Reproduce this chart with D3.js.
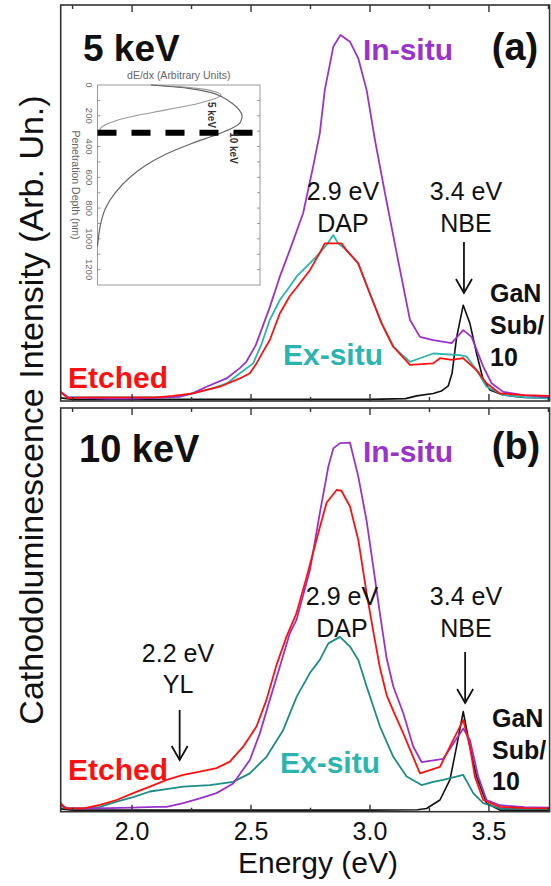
<!DOCTYPE html>
<html><head><meta charset="utf-8">
<script src="https://cdn.jsdelivr.net/npm/d3@7"></script>
<style>body{margin:0;background:#fff} svg{display:block} text{font-family:"Liberation Sans",Arial,Helvetica,sans-serif}</style>
</head><body>
<svg id="c" width="551" height="886"></svg>
<script>
// ---------- DATA ----------
// [energy (eV), intensity (arb.)]
const aInSitu = [[1.700,2.3],[1.730,1.0],[1.800,0.8],[1.900,0.6],[2.000,0.6],[2.100,0.8],[2.200,1.1],[2.256,2.0],[2.313,3.6],[2.397,5.7],[2.453,8.3],[2.480,9.9],[2.520,14.1],[2.579,23.7],[2.621,31.4],[2.663,38.1],[2.719,47.4],[2.761,59.2],[2.789,67.6],[2.810,78.5],[2.846,89.5],[2.876,92.4],[2.916,90.7],[2.951,86.5],[2.986,78.5],[3.021,65.9],[3.063,52.5],[3.112,37.4],[3.168,20.5],[3.210,16.2],[3.266,15.4],[3.343,14.6],[3.392,17.9],[3.427,16.2],[3.476,8.7],[3.511,4.5],[3.560,2.3],[3.650,1.4],[3.755,1.0]];
const aExSitu = [[1.700,2.3],[1.730,0.9],[1.800,0.9],[1.900,0.9],[2.000,0.9],[2.100,0.9],[2.200,1.1],[2.256,1.9],[2.340,3.2],[2.400,4.5],[2.453,7.0],[2.509,9.5],[2.545,14.5],[2.579,20.5],[2.621,25.5],[2.663,28.9],[2.691,31.4],[2.748,34.8],[2.789,37.4],[2.820,39.6],[2.846,41.9],[2.866,39.8],[2.901,38.1],[2.950,34.8],[2.999,27.2],[3.049,19.6],[3.098,13.7],[3.168,9.9],[3.210,10.8],[3.266,12.0],[3.378,11.6],[3.406,11.2],[3.448,7.8],[3.490,3.6],[3.560,1.5],[3.650,1.0],[3.755,0.6]];
const aEtched = [[1.700,2.3],[1.730,0.7],[1.800,0.9],[1.900,0.9],[2.000,0.9],[2.100,0.9],[2.172,1.3],[2.256,1.9],[2.313,2.8],[2.369,3.6],[2.453,5.7],[2.495,7.0],[2.523,9.5],[2.550,12.4],[2.579,15.4],[2.621,22.1],[2.663,26.5],[2.691,28.6],[2.748,33.1],[2.789,37.4],[2.810,39.8],[2.880,39.8],[2.901,38.1],[2.950,34.8],[2.999,27.2],[3.049,19.6],[3.098,13.7],[3.168,9.1],[3.266,9.5],[3.294,10.8],[3.343,10.4],[3.392,10.8],[3.448,7.8],[3.490,4.5],[3.546,1.9],[3.650,1.5],[3.755,1.3]];
const aGaN = [[1.700,0.8],[1.750,0.4],[2.000,0.4],[2.500,0.4],[3.000,0.4],[3.150,0.6],[3.196,1.3],[3.266,1.9],[3.300,2.5],[3.329,3.8],[3.345,7.0],[3.364,16.0],[3.392,24.2],[3.420,19.6],[3.448,12.0],[3.476,5.3],[3.504,2.8],[3.560,1.5],[3.650,0.9],[3.755,0.8]];

const bInSitu = [[1.700,1.7],[1.730,0.8],[1.800,0.8],[1.900,0.9],[2.000,1.0],[2.100,1.2],[2.145,1.2],[2.215,2.1],[2.285,3.3],[2.355,4.6],[2.425,7.0],[2.495,12.8],[2.537,19.4],[2.579,27.7],[2.621,35.9],[2.663,44.2],[2.691,47.5],[2.748,59.9],[2.789,73.9],[2.825,85.5],[2.846,90.0],[2.874,91.3],[2.916,91.4],[2.951,83.0],[2.986,72.0],[3.013,61.0],[3.042,49.0],[3.070,38.0],[3.098,31.0],[3.140,24.4],[3.182,16.1],[3.217,12.3],[3.308,13.1],[3.378,19.3],[3.392,20.6],[3.420,17.8],[3.455,8.7],[3.490,2.9],[3.546,1.6],[3.650,1.1],[3.755,1.0]];
const bEtched = [[1.700,2.1],[1.720,0.8],[1.795,0.8],[1.865,1.7],[1.935,2.9],[2.005,4.6],[2.075,6.2],[2.145,7.9],[2.215,9.1],[2.285,9.9],[2.355,10.8],[2.411,12.4],[2.467,16.1],[2.523,21.1],[2.565,27.7],[2.608,36.5],[2.650,43.5],[2.690,49.0],[2.734,58.2],[2.789,70.4],[2.818,76.6],[2.860,79.7],[2.880,79.5],[2.916,75.6],[2.951,67.3],[2.986,54.1],[3.013,45.0],[3.042,35.6],[3.070,28.9],[3.098,25.0],[3.140,19.4],[3.210,9.5],[3.294,11.1],[3.350,17.8],[3.392,22.7],[3.420,16.1],[3.441,8.7],[3.476,2.9],[3.546,1.2],[3.650,0.9],[3.755,0.8]];
const bExSitu = [[1.700,1.4],[1.730,0.8],[1.800,0.9],[1.865,1.2],[1.935,2.5],[2.005,3.6],[2.075,5.0],[2.145,5.6],[2.215,6.2],[2.327,6.6],[2.425,7.4],[2.495,9.5],[2.565,13.6],[2.635,20.2],[2.692,28.5],[2.748,34.4],[2.789,37.6],[2.825,41.7],[2.874,43.3],[2.916,40.9],[2.951,37.6],[2.986,31.0],[3.042,21.1],[3.098,13.6],[3.154,8.7],[3.217,6.6],[3.266,7.4],[3.308,7.9],[3.392,9.1],[3.434,4.6],[3.476,2.1],[3.546,0.8],[3.650,0.7],[3.755,0.7]];
const bGaN = [[1.700,0.7],[1.750,0.4],[2.000,0.4],[2.500,0.4],[3.000,0.4],[3.200,0.5],[3.238,0.8],[3.294,2.9],[3.336,7.9],[3.364,16.1],[3.392,24.8],[3.420,16.1],[3.448,8.7],[3.490,2.1],[3.546,0.4],[3.755,0.4]];

// inset: [depth (nm), dE/dx (arb.)]
const inset5keV = [[0,0.33],[10,0.50],[25,0.64],[45,0.73],[65,0.76],[90,0.72],[120,0.62],[150,0.48],[180,0.33],[210,0.19],[240,0.09],[270,0.03],[300,0.008],[330,0]];
const inset10keV = [[0,0.33],[20,0.55],[50,0.70],[80,0.77],[120,0.83],[160,0.87],[200,0.89],[240,0.88],[280,0.83],[320,0.74],[380,0.58],[450,0.42],[520,0.30],[600,0.20],[700,0.11],[800,0.05],[900,0.02],[1000,0.005],[1050,0]];
const insetDepthTicks = [0,200,400,600,800,1000,1200];
const layerDepth = 310;

const xTickLabels = ["2.0","2.5","3.0","3.5"];
const xTickValues = [2.0,2.5,3.0,3.5];
const xMinorValues = [1.75,2.25,2.75,3.25,3.75];

const colors = {insitu:"#9933cc", etched:"#ff1010", exA:"#2bb5ae", exB:"#1d8c88", exLabel:"#2bb5ae", gan:"#111"};

// ---------- SCALES ----------
const svg = d3.select("#c");
const x = d3.scaleLinear().domain([1.7, 3.755]).range([60.7, 549.6]);
const yA = d3.scaleLinear().domain([0,100]).range([401, 5]);
const yB = d3.scaleLinear().domain([0,100]).range([811.7, 408]);

function panel(y, series) {
  const g = svg.append("g");
  const [y0, y1] = y.range();
  const [x0, x1] = x.range();
  const line = d3.line().x(d => x(d[0])).y(d => y(d[1]));
  series.forEach(s => {
    g.append("path").datum(s.data).attr("d", line)
      .attr("fill","none").attr("stroke", s.color).attr("stroke-width", s.w || 1.8)
      .attr("stroke-linejoin","round");
  });
  g.append("rect").attr("x", x0).attr("y", y1).attr("width", x1 - x0).attr("height", y0 - y1)
    .attr("fill","none").attr("stroke","#333").attr("stroke-width",1.6);
  const all = xTickValues.map(v=>({v,L:7})).concat(xMinorValues.map(v=>({v,L:4})));
  all.forEach(t => {
    g.append("line").attr("x1",x(t.v)).attr("x2",x(t.v)).attr("y1",y0).attr("y2",y0 - t.L).attr("stroke","#333").attr("stroke-width",1.4);
    g.append("line").attr("x1",x(t.v)).attr("x2",x(t.v)).attr("y1",y1).attr("y2",y1 + t.L).attr("stroke","#333").attr("stroke-width",1.4);
  });
  return g;
}

panel(yA, [
  {data:aGaN, color:colors.gan, w:1.6},
  {data:aExSitu, color:colors.exA},
  {data:aInSitu, color:colors.insitu},
  {data:aEtched, color:colors.etched}
]);
panel(yB, [
  {data:bGaN, color:colors.gan, w:1.6},
  {data:bExSitu, color:colors.exB},
  {data:bInSitu, color:colors.insitu},
  {data:bEtched, color:colors.etched}
]);

// axis labels
xTickValues.forEach((v,i) => {
  svg.append("text").attr("x", x(v)).attr("y", 840).attr("text-anchor","middle")
    .attr("font-size",25).attr("fill","#111").text(xTickLabels[i]);
});
svg.append("text").attr("x", 318).attr("y", 873).attr("text-anchor","middle")
  .attr("font-size",30).attr("fill","#111").text("Energy (eV)");
svg.append("text").attr("transform","translate(43,410) rotate(-90)").attr("text-anchor","middle")
  .attr("font-size",34).attr("fill","#111").text("Cathodoluminescence Intensity (Arb. Un.)");

// annotations
function txt(xp, yp, s, size, opts={}) {
  return svg.append("text").attr("x",xp).attr("y",yp).attr("font-size",size)
    .attr("font-weight", opts.bold ? "bold" : "normal")
    .attr("text-anchor", opts.anchor || "start")
    .attr("fill", opts.fill || "#111").text(s);
}
function arrow(xv, yTop, yTip) {
  const xp = x(xv);
  svg.append("line").attr("x1",xp).attr("x2",xp).attr("y1",yTop).attr("y2",yTip).attr("stroke","#111").attr("stroke-width",1.8);
  svg.append("path").attr("d",`M${xp-8},${yTip-14}L${xp},${yTip}L${xp+8},${yTip-14}`).attr("fill","none").attr("stroke","#111").attr("stroke-width",1.8);
}

// panel a
txt(83, 61, "5 keV", 37, {bold:true});
txt(515, 60, "(a)", 38, {bold:true, anchor:"middle"});
txt(363, 60, "In-situ", 30, {bold:true, fill:colors.insitu});
txt(343, 200, "2.9 eV", 25, {anchor:"middle"});
txt(343, 232, "DAP", 25, {anchor:"middle"});
txt(466, 200, "3.4 eV", 25, {anchor:"middle"});
txt(466, 232, "NBE", 25, {anchor:"middle"});
arrow(3.395, 242, 293);
txt(490, 302, "GaN", 25, {bold:true});
txt(490, 334, "Sub/", 25, {bold:true});
txt(490, 366, "10", 25, {bold:true});
txt(283, 365, "Ex-situ", 30, {bold:true, fill:colors.exLabel});
txt(68, 388, "Etched", 30, {bold:true, fill:colors.etched});

// panel b
txt(79, 462, "10 keV", 38, {bold:true});
txt(516, 459, "(b)", 38, {bold:true, anchor:"middle"});
txt(363, 462, "In-situ", 30, {bold:true, fill:colors.insitu});
txt(342, 605, "2.9 eV", 25, {anchor:"middle"});
txt(342, 637, "DAP", 25, {anchor:"middle"});
txt(466, 605, "3.4 eV", 25, {anchor:"middle"});
txt(466, 637, "NBE", 25, {anchor:"middle"});
arrow(3.4, 652, 703);
txt(492, 727, "GaN", 25, {bold:true});
txt(492, 759, "Sub/", 25, {bold:true});
txt(492, 790, "10", 25, {bold:true});
txt(280, 773, "Ex-situ", 30, {bold:true, fill:colors.exLabel});
txt(68, 780, "Etched", 30, {bold:true, fill:colors.etched});
txt(178, 662, "2.2 eV", 25, {anchor:"middle"});
txt(178, 693, "YL", 25, {anchor:"middle"});
arrow(2.2, 710, 760);

// ---------- INSET ----------
const ix = d3.scaleLinear().domain([0,1]).range([97.5, 260]);
const iy = d3.scaleLinear().domain([0,1300]).range([85, 285]);
const ig = svg.append("g");
ig.append("rect").attr("x",ix(0)).attr("y",iy(0)).attr("width",ix(1)-ix(0)).attr("height",iy(1300)-iy(0))
  .attr("fill","#fff").attr("stroke","#999").attr("stroke-width",1);
d3.range(100,1300,100).forEach(d => {
  ig.append("line").attr("x1",ix(0)).attr("x2",ix(0)+3).attr("y1",iy(d)).attr("y2",iy(d)).attr("stroke","#999");
  ig.append("line").attr("x1",ix(1)).attr("x2",ix(1)-3).attr("y1",iy(d)).attr("y2",iy(d)).attr("stroke","#999");
});
const iline = d3.line().x(d => ix(d[1])).y(d => iy(d[0])).curve(d3.curveMonotoneY);
ig.append("path").datum(inset5keV).attr("d",iline).attr("fill","none").attr("stroke","#999").attr("stroke-width",1.1);
ig.append("path").datum(inset10keV).attr("d",iline).attr("fill","none").attr("stroke","#666").attr("stroke-width",1.2);
ig.append("line").attr("x1",ix(0)).attr("x2",ix(1)).attr("y1",iy(layerDepth)).attr("y2",iy(layerDepth))
  .attr("stroke","#000").attr("stroke-width",6).attr("stroke-dasharray","19,15");
ig.append("text").attr("x",(ix(0)+ix(1))/2).attr("y",79).attr("text-anchor","middle").attr("font-size",10.5).attr("fill","#666").text("dE/dx (Arbitrary Units)");
insetDepthTicks.forEach(d => {
  ig.append("text").attr("transform",`translate(85.5,${iy(d)}) rotate(90)`).attr("text-anchor","middle")
    .attr("font-size",9.5).attr("fill","#666").text(d);
});
ig.append("text").attr("transform",`translate(72,185) rotate(90)`).attr("text-anchor","middle")
  .attr("font-size",10.5).attr("fill","#666").text("Penetration Depth (nm)");
ig.append("text").attr("transform",`translate(208,115) rotate(90)`).attr("text-anchor","middle")
  .attr("font-size",10).attr("font-weight","bold").attr("fill","#333").text("5 keV");
ig.append("text").attr("transform",`translate(230,148) rotate(90)`).attr("text-anchor","middle")
  .attr("font-size",10).attr("font-weight","bold").attr("fill","#333").text("10 keV");
</script>
</body></html>
